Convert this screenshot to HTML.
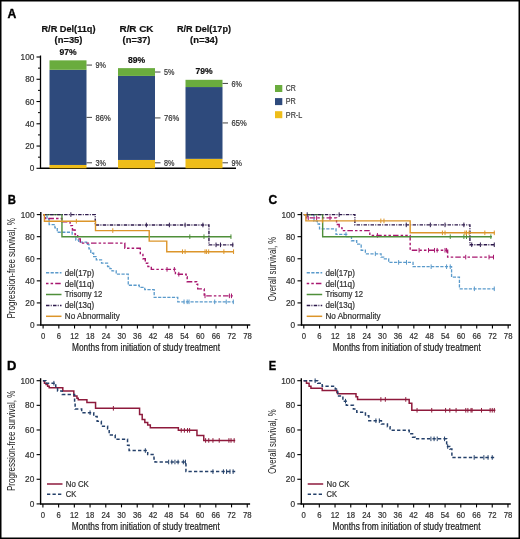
<!DOCTYPE html>
<html><head><meta charset="utf-8"><style>
html,body{margin:0;padding:0;background:#fff;}
body{width:520px;height:539px;overflow:hidden;}
svg{display:block;font-family:"Liberation Sans", sans-serif;will-change:transform;}
</style></head><body>
<svg width="520" height="539" viewBox="0 0 520 539">
<rect x="0" y="0" width="520" height="539" fill="#fff"/>
<text x="7.5" y="17.6" font-size="12.3" text-anchor="start" font-weight="bold" fill="#000" textLength="8.8" lengthAdjust="spacingAndGlyphs" stroke="#000" stroke-width="0.35">A</text>
<line x1="40.5" y1="55.5" x2="40.5" y2="168.8" stroke="#000" stroke-width="1.3" />
<line x1="39.9" y1="168.3" x2="236" y2="168.3" stroke="#000" stroke-width="1.5" />
<line x1="36.5" y1="168.3" x2="40.5" y2="168.3" stroke="#000" stroke-width="1.1" />
<text x="34.4" y="171.4" font-size="8.8" text-anchor="end" font-weight="normal" fill="#333" stroke="#333" stroke-width="0.22" textLength="4.6" lengthAdjust="spacingAndGlyphs" >0</text>
<line x1="38.0" y1="157.17000000000002" x2="40.5" y2="157.17000000000002" stroke="#000" stroke-width="1" />
<line x1="36.5" y1="146.04000000000002" x2="40.5" y2="146.04000000000002" stroke="#000" stroke-width="1.1" />
<text x="34.4" y="149.14000000000001" font-size="8.8" text-anchor="end" font-weight="normal" fill="#333" stroke="#333" stroke-width="0.22" textLength="9.2" lengthAdjust="spacingAndGlyphs" >20</text>
<line x1="38.0" y1="134.91000000000003" x2="40.5" y2="134.91000000000003" stroke="#000" stroke-width="1" />
<line x1="36.5" y1="123.78000000000002" x2="40.5" y2="123.78000000000002" stroke="#000" stroke-width="1.1" />
<text x="34.4" y="126.88000000000001" font-size="8.8" text-anchor="end" font-weight="normal" fill="#333" stroke="#333" stroke-width="0.22" textLength="9.2" lengthAdjust="spacingAndGlyphs" >40</text>
<line x1="38.0" y1="112.65" x2="40.5" y2="112.65" stroke="#000" stroke-width="1" />
<line x1="36.5" y1="101.52000000000001" x2="40.5" y2="101.52000000000001" stroke="#000" stroke-width="1.1" />
<text x="34.4" y="104.62" font-size="8.8" text-anchor="end" font-weight="normal" fill="#333" stroke="#333" stroke-width="0.22" textLength="9.2" lengthAdjust="spacingAndGlyphs" >60</text>
<line x1="38.0" y1="90.39000000000001" x2="40.5" y2="90.39000000000001" stroke="#000" stroke-width="1" />
<line x1="36.5" y1="79.26000000000002" x2="40.5" y2="79.26000000000002" stroke="#000" stroke-width="1.1" />
<text x="34.4" y="82.36000000000001" font-size="8.8" text-anchor="end" font-weight="normal" fill="#333" stroke="#333" stroke-width="0.22" textLength="9.2" lengthAdjust="spacingAndGlyphs" >80</text>
<line x1="38.0" y1="68.13000000000001" x2="40.5" y2="68.13000000000001" stroke="#000" stroke-width="1" />
<line x1="36.5" y1="57.000000000000014" x2="40.5" y2="57.000000000000014" stroke="#000" stroke-width="1.1" />
<text x="34.4" y="60.100000000000016" font-size="8.8" text-anchor="end" font-weight="normal" fill="#333" stroke="#333" stroke-width="0.22" textLength="13.799999999999999" lengthAdjust="spacingAndGlyphs" >100</text>
<rect x="49.5" y="164.96" width="37" height="3.34" fill="#eebd1a"/>
<rect x="49.5" y="69.80" width="37" height="95.16" fill="#2e4a7c"/>
<rect x="49.5" y="60.34" width="37" height="9.46" fill="#6aac3e"/>
<text x="68.0" y="54.83900000000001" font-size="8.6" text-anchor="middle" font-weight="bold" fill="#111" stroke="#111" stroke-width="0.18" >97%</text>
<line x1="86.5" y1="162.8" x2="92.0" y2="162.8" stroke="#444" stroke-width="1" />
<text x="95.5" y="166.0" font-size="9.2" text-anchor="start" font-weight="normal" fill="#333" stroke="#333" stroke-width="0.22" textLength="10.4" lengthAdjust="spacingAndGlyphs" >3%</text>
<line x1="86.5" y1="117.38025000000002" x2="92.0" y2="117.38025000000002" stroke="#444" stroke-width="1" />
<text x="95.5" y="120.58025000000002" font-size="9.2" text-anchor="start" font-weight="normal" fill="#333" stroke="#333" stroke-width="0.22" textLength="15.2" lengthAdjust="spacingAndGlyphs" >86%</text>
<line x1="86.5" y1="65.06925000000001" x2="92.0" y2="65.06925000000001" stroke="#444" stroke-width="1" />
<text x="95.5" y="68.26925000000001" font-size="9.2" text-anchor="start" font-weight="normal" fill="#333" stroke="#333" stroke-width="0.22" textLength="10.4" lengthAdjust="spacingAndGlyphs" >9%</text>
<rect x="118.0" y="159.95" width="37" height="8.35" fill="#eebd1a"/>
<rect x="118.0" y="75.92" width="37" height="84.03" fill="#2e4a7c"/>
<rect x="118.0" y="68.13" width="37" height="7.79" fill="#6aac3e"/>
<text x="136.5" y="62.63000000000001" font-size="8.6" text-anchor="middle" font-weight="bold" fill="#111" stroke="#111" stroke-width="0.18" >89%</text>
<line x1="155.0" y1="162.8" x2="160.5" y2="162.8" stroke="#444" stroke-width="1" />
<text x="164.0" y="166.0" font-size="9.2" text-anchor="start" font-weight="normal" fill="#333" stroke="#333" stroke-width="0.22" textLength="10.4" lengthAdjust="spacingAndGlyphs" >8%</text>
<line x1="155.0" y1="117.93675000000002" x2="160.5" y2="117.93675000000002" stroke="#444" stroke-width="1" />
<text x="164.0" y="121.13675000000002" font-size="9.2" text-anchor="start" font-weight="normal" fill="#333" stroke="#333" stroke-width="0.22" textLength="15.2" lengthAdjust="spacingAndGlyphs" >76%</text>
<line x1="155.0" y1="72.02550000000001" x2="160.5" y2="72.02550000000001" stroke="#444" stroke-width="1" />
<text x="164.0" y="75.22550000000001" font-size="9.2" text-anchor="start" font-weight="normal" fill="#333" stroke="#333" stroke-width="0.22" textLength="10.4" lengthAdjust="spacingAndGlyphs" >5%</text>
<rect x="185.5" y="158.84" width="37" height="9.46" fill="#eebd1a"/>
<rect x="185.5" y="87.05" width="37" height="71.79" fill="#2e4a7c"/>
<rect x="185.5" y="79.82" width="37" height="7.23" fill="#6aac3e"/>
<text x="204.0" y="74.31650000000002" font-size="8.6" text-anchor="middle" font-weight="bold" fill="#111" stroke="#111" stroke-width="0.18" >79%</text>
<line x1="222.5" y1="162.8" x2="228.0" y2="162.8" stroke="#444" stroke-width="1" />
<text x="231.5" y="166.0" font-size="9.2" text-anchor="start" font-weight="normal" fill="#333" stroke="#333" stroke-width="0.22" textLength="10.4" lengthAdjust="spacingAndGlyphs" >9%</text>
<line x1="222.5" y1="122.94525000000002" x2="228.0" y2="122.94525000000002" stroke="#444" stroke-width="1" />
<text x="231.5" y="126.14525000000002" font-size="9.2" text-anchor="start" font-weight="normal" fill="#333" stroke="#333" stroke-width="0.22" textLength="15.2" lengthAdjust="spacingAndGlyphs" >65%</text>
<line x1="222.5" y1="83.43375000000002" x2="228.0" y2="83.43375000000002" stroke="#444" stroke-width="1" />
<text x="231.5" y="86.63375000000002" font-size="9.2" text-anchor="start" font-weight="normal" fill="#333" stroke="#333" stroke-width="0.22" textLength="10.4" lengthAdjust="spacingAndGlyphs" >6%</text>
<text x="68.5" y="31.8" font-size="9.2" text-anchor="middle" font-weight="bold" fill="#111" stroke="#111" stroke-width="0.18" textLength="54" lengthAdjust="spacingAndGlyphs" >R/R Del(11q)</text>
<text x="68.5" y="42.6" font-size="9.2" text-anchor="middle" font-weight="bold" fill="#111" stroke="#111" stroke-width="0.18" textLength="28" lengthAdjust="spacingAndGlyphs" >(n=35)</text>
<text x="136.5" y="31.8" font-size="9.2" text-anchor="middle" font-weight="bold" fill="#111" stroke="#111" stroke-width="0.18" textLength="34" lengthAdjust="spacingAndGlyphs" >R/R CK</text>
<text x="136.5" y="42.6" font-size="9.2" text-anchor="middle" font-weight="bold" fill="#111" stroke="#111" stroke-width="0.18" textLength="28" lengthAdjust="spacingAndGlyphs" >(n=37)</text>
<text x="204" y="31.8" font-size="9.2" text-anchor="middle" font-weight="bold" fill="#111" stroke="#111" stroke-width="0.18" textLength="54" lengthAdjust="spacingAndGlyphs" >R/R Del(17p)</text>
<text x="204" y="42.6" font-size="9.2" text-anchor="middle" font-weight="bold" fill="#111" stroke="#111" stroke-width="0.18" textLength="28" lengthAdjust="spacingAndGlyphs" >(n=34)</text>
<rect x="275" y="85.0" width="7.3" height="7" fill="#6aac3e"/>
<text x="285.8" y="91.3" font-size="8.2" text-anchor="start" font-weight="normal" fill="#444" stroke="#444" stroke-width="0.22" textLength="10" lengthAdjust="spacingAndGlyphs" >CR</text>
<rect x="275" y="98.1" width="7.3" height="7" fill="#2e4a7c"/>
<text x="285.8" y="104.39999999999999" font-size="8.2" text-anchor="start" font-weight="normal" fill="#444" stroke="#444" stroke-width="0.22" textLength="10" lengthAdjust="spacingAndGlyphs" >PR</text>
<rect x="275" y="111.2" width="7.3" height="7" fill="#eebd1a"/>
<text x="285.8" y="117.5" font-size="8.2" text-anchor="start" font-weight="normal" fill="#444" stroke="#444" stroke-width="0.22" textLength="16.5" lengthAdjust="spacingAndGlyphs" >PR-L</text>
<line x1="40.8" y1="212.1" x2="40.8" y2="325.5" stroke="#000" stroke-width="1.4" />
<line x1="40.199999999999996" y1="325.0" x2="250.3" y2="325.0" stroke="#000" stroke-width="1.5" />
<line x1="36.8" y1="325.0" x2="40.8" y2="325.0" stroke="#000" stroke-width="1.1" />
<text x="34.5" y="328.1" font-size="8.8" text-anchor="end" font-weight="normal" fill="#333" stroke="#333" stroke-width="0.22" textLength="4.6" lengthAdjust="spacingAndGlyphs" >0</text>
<line x1="36.8" y1="302.92" x2="40.8" y2="302.92" stroke="#000" stroke-width="1.1" />
<text x="34.5" y="306.02000000000004" font-size="8.8" text-anchor="end" font-weight="normal" fill="#333" stroke="#333" stroke-width="0.22" textLength="9.2" lengthAdjust="spacingAndGlyphs" >20</text>
<line x1="36.8" y1="280.84" x2="40.8" y2="280.84" stroke="#000" stroke-width="1.1" />
<text x="34.5" y="283.94" font-size="8.8" text-anchor="end" font-weight="normal" fill="#333" stroke="#333" stroke-width="0.22" textLength="9.2" lengthAdjust="spacingAndGlyphs" >40</text>
<line x1="36.8" y1="258.76" x2="40.8" y2="258.76" stroke="#000" stroke-width="1.1" />
<text x="34.5" y="261.86" font-size="8.8" text-anchor="end" font-weight="normal" fill="#333" stroke="#333" stroke-width="0.22" textLength="9.2" lengthAdjust="spacingAndGlyphs" >60</text>
<line x1="36.8" y1="236.68" x2="40.8" y2="236.68" stroke="#000" stroke-width="1.1" />
<text x="34.5" y="239.78" font-size="8.8" text-anchor="end" font-weight="normal" fill="#333" stroke="#333" stroke-width="0.22" textLength="9.2" lengthAdjust="spacingAndGlyphs" >80</text>
<line x1="36.8" y1="214.6" x2="40.8" y2="214.6" stroke="#000" stroke-width="1.1" />
<text x="34.5" y="217.7" font-size="8.8" text-anchor="end" font-weight="normal" fill="#333" stroke="#333" stroke-width="0.22" textLength="13.799999999999999" lengthAdjust="spacingAndGlyphs" >100</text>
<line x1="43.099999999999994" y1="325.0" x2="43.099999999999994" y2="328.5" stroke="#000" stroke-width="1.1" />
<text x="43.099999999999994" y="338.8" font-size="8.8" text-anchor="middle" font-weight="normal" fill="#333" stroke="#333" stroke-width="0.22" textLength="4.3" lengthAdjust="spacingAndGlyphs" >0</text>
<line x1="58.81999999999999" y1="325.0" x2="58.81999999999999" y2="328.5" stroke="#000" stroke-width="1.1" />
<text x="58.81999999999999" y="338.8" font-size="8.8" text-anchor="middle" font-weight="normal" fill="#333" stroke="#333" stroke-width="0.22" textLength="4.3" lengthAdjust="spacingAndGlyphs" >6</text>
<line x1="74.53999999999999" y1="325.0" x2="74.53999999999999" y2="328.5" stroke="#000" stroke-width="1.1" />
<text x="74.53999999999999" y="338.8" font-size="8.8" text-anchor="middle" font-weight="normal" fill="#333" stroke="#333" stroke-width="0.22" textLength="8.6" lengthAdjust="spacingAndGlyphs" >12</text>
<line x1="90.25999999999999" y1="325.0" x2="90.25999999999999" y2="328.5" stroke="#000" stroke-width="1.1" />
<text x="90.25999999999999" y="338.8" font-size="8.8" text-anchor="middle" font-weight="normal" fill="#333" stroke="#333" stroke-width="0.22" textLength="8.6" lengthAdjust="spacingAndGlyphs" >18</text>
<line x1="105.97999999999999" y1="325.0" x2="105.97999999999999" y2="328.5" stroke="#000" stroke-width="1.1" />
<text x="105.97999999999999" y="338.8" font-size="8.8" text-anchor="middle" font-weight="normal" fill="#333" stroke="#333" stroke-width="0.22" textLength="8.6" lengthAdjust="spacingAndGlyphs" >24</text>
<line x1="121.7" y1="325.0" x2="121.7" y2="328.5" stroke="#000" stroke-width="1.1" />
<text x="121.7" y="338.8" font-size="8.8" text-anchor="middle" font-weight="normal" fill="#333" stroke="#333" stroke-width="0.22" textLength="8.6" lengthAdjust="spacingAndGlyphs" >30</text>
<line x1="137.42000000000002" y1="325.0" x2="137.42000000000002" y2="328.5" stroke="#000" stroke-width="1.1" />
<text x="137.42000000000002" y="338.8" font-size="8.8" text-anchor="middle" font-weight="normal" fill="#333" stroke="#333" stroke-width="0.22" textLength="8.6" lengthAdjust="spacingAndGlyphs" >36</text>
<line x1="153.14" y1="325.0" x2="153.14" y2="328.5" stroke="#000" stroke-width="1.1" />
<text x="153.14" y="338.8" font-size="8.8" text-anchor="middle" font-weight="normal" fill="#333" stroke="#333" stroke-width="0.22" textLength="8.6" lengthAdjust="spacingAndGlyphs" >42</text>
<line x1="168.86" y1="325.0" x2="168.86" y2="328.5" stroke="#000" stroke-width="1.1" />
<text x="168.86" y="338.8" font-size="8.8" text-anchor="middle" font-weight="normal" fill="#333" stroke="#333" stroke-width="0.22" textLength="8.6" lengthAdjust="spacingAndGlyphs" >48</text>
<line x1="184.58" y1="325.0" x2="184.58" y2="328.5" stroke="#000" stroke-width="1.1" />
<text x="184.58" y="338.8" font-size="8.8" text-anchor="middle" font-weight="normal" fill="#333" stroke="#333" stroke-width="0.22" textLength="8.6" lengthAdjust="spacingAndGlyphs" >54</text>
<line x1="200.3" y1="325.0" x2="200.3" y2="328.5" stroke="#000" stroke-width="1.1" />
<text x="200.3" y="338.8" font-size="8.8" text-anchor="middle" font-weight="normal" fill="#333" stroke="#333" stroke-width="0.22" textLength="8.6" lengthAdjust="spacingAndGlyphs" >60</text>
<line x1="216.02" y1="325.0" x2="216.02" y2="328.5" stroke="#000" stroke-width="1.1" />
<text x="216.02" y="338.8" font-size="8.8" text-anchor="middle" font-weight="normal" fill="#333" stroke="#333" stroke-width="0.22" textLength="8.6" lengthAdjust="spacingAndGlyphs" >66</text>
<line x1="231.74" y1="325.0" x2="231.74" y2="328.5" stroke="#000" stroke-width="1.1" />
<text x="231.74" y="338.8" font-size="8.8" text-anchor="middle" font-weight="normal" fill="#333" stroke="#333" stroke-width="0.22" textLength="8.6" lengthAdjust="spacingAndGlyphs" >72</text>
<line x1="247.46" y1="325.0" x2="247.46" y2="328.5" stroke="#000" stroke-width="1.1" />
<text x="247.46" y="338.8" font-size="8.8" text-anchor="middle" font-weight="normal" fill="#333" stroke="#333" stroke-width="0.22" textLength="8.6" lengthAdjust="spacingAndGlyphs" >78</text>
<text x="146.0" y="350.8" font-size="10" text-anchor="middle" font-weight="normal" fill="#222" stroke="#222" stroke-width="0.22" textLength="148" lengthAdjust="spacingAndGlyphs" >Months from initiation of study treatment</text>
<text x="0" y="0" font-size="10" text-anchor="middle" fill="#222" textLength="100.5" lengthAdjust="spacingAndGlyphs" transform="translate(14.999999999999996,268.3) rotate(-90)">Progression-free survival, %</text>
<text x="7.699999999999996" y="203.5" font-size="12.3" text-anchor="start" font-weight="bold" fill="#000" textLength="8.2" lengthAdjust="spacingAndGlyphs" stroke="#000" stroke-width="0.35">B</text>
<path d="M43.10,214.60 H47.03 V219.02 H49.13 V224.54 H54.89 V227.85 H57.25 V232.26 H72.18 V236.68 H75.85 V239.99 H78.73 V242.20 H86.59 V244.41 H88.95 V248.82 H90.78 V253.24 H93.67 V256.55 H96.29 V259.86 H101.53 V263.18 H107.55 V266.49 H109.91 V268.70 H112.01 V270.90 H116.20 V274.22 H128.25 V285.26 H139.25 V287.46 H144.76 V289.67 H154.19 V297.40 H177.77 V301.82 H233.84" fill="none" stroke="#5a9acb" stroke-width="1.3" stroke-dasharray="3.2,1.4"/>
<line x1="184.06" y1="299.52" x2="184.06" y2="304.12" stroke="#5a9acb" stroke-width="1" />
<line x1="187.20" y1="299.52" x2="187.20" y2="304.12" stroke="#5a9acb" stroke-width="1" />
<line x1="189.03" y1="299.52" x2="189.03" y2="304.12" stroke="#5a9acb" stroke-width="1" />
<line x1="214.71" y1="299.52" x2="214.71" y2="304.12" stroke="#5a9acb" stroke-width="1" />
<line x1="226.24" y1="299.52" x2="226.24" y2="304.12" stroke="#5a9acb" stroke-width="1" />
<line x1="233.31" y1="299.52" x2="233.31" y2="304.12" stroke="#5a9acb" stroke-width="1" />
<path d="M43.10,214.60 H45.20 V218.46 H61.96 V221.89 H70.09 V225.64 H72.44 V230.06 H75.06 V234.47 H77.68 V238.89 H80.30 V243.08 H124.84 V248.27 H140.30 V254.34 H142.92 V258.76 H145.28 V263.18 H147.90 V266.49 H151.31 V269.36 H175.41 V274.22 H186.15 V276.76 H187.20 V281.72 H196.63 V284.15 H197.68 V288.90 H204.23 V295.85 H232.79" fill="none" stroke="#a8176f" stroke-width="1.4" stroke-dasharray="2.5,2.1,2.5,2.1,5.5,2.1"/>
<line x1="167.03" y1="267.06" x2="167.03" y2="271.66" stroke="#a8176f" stroke-width="1" />
<line x1="174.36" y1="267.06" x2="174.36" y2="271.66" stroke="#a8176f" stroke-width="1" />
<line x1="178.82" y1="271.92" x2="178.82" y2="276.52" stroke="#a8176f" stroke-width="1" />
<line x1="205.02" y1="293.55" x2="205.02" y2="298.15" stroke="#a8176f" stroke-width="1" />
<line x1="229.38" y1="293.55" x2="229.38" y2="298.15" stroke="#a8176f" stroke-width="1" />
<line x1="231.48" y1="293.55" x2="231.48" y2="298.15" stroke="#a8176f" stroke-width="1" />
<path d="M43.10,214.60 H61.96 V236.68 H231.22" fill="none" stroke="#4f8f3a" stroke-width="1.4"/>
<line x1="189.82" y1="234.38" x2="189.82" y2="238.98" stroke="#4f8f3a" stroke-width="1" />
<line x1="203.97" y1="234.38" x2="203.97" y2="238.98" stroke="#4f8f3a" stroke-width="1" />
<line x1="230.95" y1="234.38" x2="230.95" y2="238.98" stroke="#4f8f3a" stroke-width="1" />
<path d="M43.10,214.60 H95.24 V224.98 H208.95 V244.85 H233.57" fill="none" stroke="#2e1a4c" stroke-width="1.4" stroke-dasharray="3.5,1.2,1,1.3"/>
<line x1="70.87" y1="212.30" x2="70.87" y2="216.90" stroke="#2e1a4c" stroke-width="1" />
<line x1="146.33" y1="222.68" x2="146.33" y2="227.28" stroke="#2e1a4c" stroke-width="1" />
<line x1="169.38" y1="222.68" x2="169.38" y2="227.28" stroke="#2e1a4c" stroke-width="1" />
<line x1="185.10" y1="222.68" x2="185.10" y2="227.28" stroke="#2e1a4c" stroke-width="1" />
<line x1="202.92" y1="222.68" x2="202.92" y2="227.28" stroke="#2e1a4c" stroke-width="1" />
<line x1="216.02" y1="242.55" x2="216.02" y2="247.15" stroke="#2e1a4c" stroke-width="1" />
<line x1="220.47" y1="242.55" x2="220.47" y2="247.15" stroke="#2e1a4c" stroke-width="1" />
<line x1="232.79" y1="242.55" x2="232.79" y2="247.15" stroke="#2e1a4c" stroke-width="1" />
<path d="M43.10,214.60 H44.41 V221.22 H95.50 V230.61 H149.21 V241.10 H166.76 V251.69 H233.57" fill="none" stroke="#dc952a" stroke-width="1.4"/>
<line x1="76.37" y1="218.92" x2="76.37" y2="223.52" stroke="#dc952a" stroke-width="1" />
<line x1="112.79" y1="228.31" x2="112.79" y2="232.91" stroke="#dc952a" stroke-width="1" />
<line x1="182.48" y1="249.39" x2="182.48" y2="253.99" stroke="#dc952a" stroke-width="1" />
<line x1="185.10" y1="249.39" x2="185.10" y2="253.99" stroke="#dc952a" stroke-width="1" />
<line x1="205.02" y1="249.39" x2="205.02" y2="253.99" stroke="#dc952a" stroke-width="1" />
<line x1="206.59" y1="249.39" x2="206.59" y2="253.99" stroke="#dc952a" stroke-width="1" />
<line x1="208.68" y1="249.39" x2="208.68" y2="253.99" stroke="#dc952a" stroke-width="1" />
<line x1="223.88" y1="249.39" x2="223.88" y2="253.99" stroke="#dc952a" stroke-width="1" />
<line x1="233.57" y1="249.39" x2="233.57" y2="253.99" stroke="#dc952a" stroke-width="1" />
<line x1="46" y1="272.7" x2="61.5" y2="272.7" stroke="#5a9acb" stroke-width="1.5" stroke-dasharray="3.2,1.4"/>
<text x="64.8" y="275.59999999999997" font-size="8.2" text-anchor="start" font-weight="normal" fill="#333" stroke="#333" stroke-width="0.22" textLength="29.4" lengthAdjust="spacingAndGlyphs" >del(17p)</text>
<line x1="46" y1="283.59999999999997" x2="61.5" y2="283.59999999999997" stroke="#a8176f" stroke-width="1.5" stroke-dasharray="2.5,2.1,2.5,2.1,5.5,2.1"/>
<text x="64.8" y="286.49999999999994" font-size="8.2" text-anchor="start" font-weight="normal" fill="#333" stroke="#333" stroke-width="0.22" textLength="29.4" lengthAdjust="spacingAndGlyphs" >del(11q)</text>
<line x1="46" y1="294.5" x2="61.5" y2="294.5" stroke="#4f8f3a" stroke-width="1.5"/>
<text x="64.8" y="297.4" font-size="8.2" text-anchor="start" font-weight="normal" fill="#333" stroke="#333" stroke-width="0.22" textLength="37.5" lengthAdjust="spacingAndGlyphs" >Trisomy 12</text>
<line x1="46" y1="305.4" x2="61.5" y2="305.4" stroke="#2e1a4c" stroke-width="1.5" stroke-dasharray="3.5,1.2,1,1.3"/>
<text x="64.8" y="308.29999999999995" font-size="8.2" text-anchor="start" font-weight="normal" fill="#333" stroke="#333" stroke-width="0.22" textLength="29.4" lengthAdjust="spacingAndGlyphs" >del(13q)</text>
<line x1="46" y1="316.3" x2="61.5" y2="316.3" stroke="#dc952a" stroke-width="1.5"/>
<text x="64.8" y="319.2" font-size="8.2" text-anchor="start" font-weight="normal" fill="#333" stroke="#333" stroke-width="0.22" textLength="55" lengthAdjust="spacingAndGlyphs" >No Abnormality</text>
<line x1="301.5" y1="212.1" x2="301.5" y2="325.5" stroke="#000" stroke-width="1.4" />
<line x1="300.9" y1="325.0" x2="511.0" y2="325.0" stroke="#000" stroke-width="1.5" />
<line x1="297.5" y1="325.0" x2="301.5" y2="325.0" stroke="#000" stroke-width="1.1" />
<text x="295.2" y="328.1" font-size="8.8" text-anchor="end" font-weight="normal" fill="#333" stroke="#333" stroke-width="0.22" textLength="4.6" lengthAdjust="spacingAndGlyphs" >0</text>
<line x1="297.5" y1="302.92" x2="301.5" y2="302.92" stroke="#000" stroke-width="1.1" />
<text x="295.2" y="306.02000000000004" font-size="8.8" text-anchor="end" font-weight="normal" fill="#333" stroke="#333" stroke-width="0.22" textLength="9.2" lengthAdjust="spacingAndGlyphs" >20</text>
<line x1="297.5" y1="280.84" x2="301.5" y2="280.84" stroke="#000" stroke-width="1.1" />
<text x="295.2" y="283.94" font-size="8.8" text-anchor="end" font-weight="normal" fill="#333" stroke="#333" stroke-width="0.22" textLength="9.2" lengthAdjust="spacingAndGlyphs" >40</text>
<line x1="297.5" y1="258.76" x2="301.5" y2="258.76" stroke="#000" stroke-width="1.1" />
<text x="295.2" y="261.86" font-size="8.8" text-anchor="end" font-weight="normal" fill="#333" stroke="#333" stroke-width="0.22" textLength="9.2" lengthAdjust="spacingAndGlyphs" >60</text>
<line x1="297.5" y1="236.68" x2="301.5" y2="236.68" stroke="#000" stroke-width="1.1" />
<text x="295.2" y="239.78" font-size="8.8" text-anchor="end" font-weight="normal" fill="#333" stroke="#333" stroke-width="0.22" textLength="9.2" lengthAdjust="spacingAndGlyphs" >80</text>
<line x1="297.5" y1="214.6" x2="301.5" y2="214.6" stroke="#000" stroke-width="1.1" />
<text x="295.2" y="217.7" font-size="8.8" text-anchor="end" font-weight="normal" fill="#333" stroke="#333" stroke-width="0.22" textLength="13.799999999999999" lengthAdjust="spacingAndGlyphs" >100</text>
<line x1="303.8" y1="325.0" x2="303.8" y2="328.5" stroke="#000" stroke-width="1.1" />
<text x="303.8" y="338.8" font-size="8.8" text-anchor="middle" font-weight="normal" fill="#333" stroke="#333" stroke-width="0.22" textLength="4.3" lengthAdjust="spacingAndGlyphs" >0</text>
<line x1="319.52000000000004" y1="325.0" x2="319.52000000000004" y2="328.5" stroke="#000" stroke-width="1.1" />
<text x="319.52000000000004" y="338.8" font-size="8.8" text-anchor="middle" font-weight="normal" fill="#333" stroke="#333" stroke-width="0.22" textLength="4.3" lengthAdjust="spacingAndGlyphs" >6</text>
<line x1="335.24" y1="325.0" x2="335.24" y2="328.5" stroke="#000" stroke-width="1.1" />
<text x="335.24" y="338.8" font-size="8.8" text-anchor="middle" font-weight="normal" fill="#333" stroke="#333" stroke-width="0.22" textLength="8.6" lengthAdjust="spacingAndGlyphs" >12</text>
<line x1="350.96000000000004" y1="325.0" x2="350.96000000000004" y2="328.5" stroke="#000" stroke-width="1.1" />
<text x="350.96000000000004" y="338.8" font-size="8.8" text-anchor="middle" font-weight="normal" fill="#333" stroke="#333" stroke-width="0.22" textLength="8.6" lengthAdjust="spacingAndGlyphs" >18</text>
<line x1="366.68" y1="325.0" x2="366.68" y2="328.5" stroke="#000" stroke-width="1.1" />
<text x="366.68" y="338.8" font-size="8.8" text-anchor="middle" font-weight="normal" fill="#333" stroke="#333" stroke-width="0.22" textLength="8.6" lengthAdjust="spacingAndGlyphs" >24</text>
<line x1="382.40000000000003" y1="325.0" x2="382.40000000000003" y2="328.5" stroke="#000" stroke-width="1.1" />
<text x="382.40000000000003" y="338.8" font-size="8.8" text-anchor="middle" font-weight="normal" fill="#333" stroke="#333" stroke-width="0.22" textLength="8.6" lengthAdjust="spacingAndGlyphs" >30</text>
<line x1="398.12" y1="325.0" x2="398.12" y2="328.5" stroke="#000" stroke-width="1.1" />
<text x="398.12" y="338.8" font-size="8.8" text-anchor="middle" font-weight="normal" fill="#333" stroke="#333" stroke-width="0.22" textLength="8.6" lengthAdjust="spacingAndGlyphs" >36</text>
<line x1="413.84000000000003" y1="325.0" x2="413.84000000000003" y2="328.5" stroke="#000" stroke-width="1.1" />
<text x="413.84000000000003" y="338.8" font-size="8.8" text-anchor="middle" font-weight="normal" fill="#333" stroke="#333" stroke-width="0.22" textLength="8.6" lengthAdjust="spacingAndGlyphs" >42</text>
<line x1="429.56" y1="325.0" x2="429.56" y2="328.5" stroke="#000" stroke-width="1.1" />
<text x="429.56" y="338.8" font-size="8.8" text-anchor="middle" font-weight="normal" fill="#333" stroke="#333" stroke-width="0.22" textLength="8.6" lengthAdjust="spacingAndGlyphs" >48</text>
<line x1="445.28000000000003" y1="325.0" x2="445.28000000000003" y2="328.5" stroke="#000" stroke-width="1.1" />
<text x="445.28000000000003" y="338.8" font-size="8.8" text-anchor="middle" font-weight="normal" fill="#333" stroke="#333" stroke-width="0.22" textLength="8.6" lengthAdjust="spacingAndGlyphs" >54</text>
<line x1="461.0" y1="325.0" x2="461.0" y2="328.5" stroke="#000" stroke-width="1.1" />
<text x="461.0" y="338.8" font-size="8.8" text-anchor="middle" font-weight="normal" fill="#333" stroke="#333" stroke-width="0.22" textLength="8.6" lengthAdjust="spacingAndGlyphs" >60</text>
<line x1="476.72" y1="325.0" x2="476.72" y2="328.5" stroke="#000" stroke-width="1.1" />
<text x="476.72" y="338.8" font-size="8.8" text-anchor="middle" font-weight="normal" fill="#333" stroke="#333" stroke-width="0.22" textLength="8.6" lengthAdjust="spacingAndGlyphs" >66</text>
<line x1="492.44000000000005" y1="325.0" x2="492.44000000000005" y2="328.5" stroke="#000" stroke-width="1.1" />
<text x="492.44000000000005" y="338.8" font-size="8.8" text-anchor="middle" font-weight="normal" fill="#333" stroke="#333" stroke-width="0.22" textLength="8.6" lengthAdjust="spacingAndGlyphs" >72</text>
<line x1="508.16" y1="325.0" x2="508.16" y2="328.5" stroke="#000" stroke-width="1.1" />
<text x="508.16" y="338.8" font-size="8.8" text-anchor="middle" font-weight="normal" fill="#333" stroke="#333" stroke-width="0.22" textLength="8.6" lengthAdjust="spacingAndGlyphs" >78</text>
<text x="406.7" y="350.8" font-size="10" text-anchor="middle" font-weight="normal" fill="#222" stroke="#222" stroke-width="0.22" textLength="148" lengthAdjust="spacingAndGlyphs" >Months from initiation of study treatment</text>
<text x="0" y="0" font-size="10" text-anchor="middle" fill="#222" textLength="64.5" lengthAdjust="spacingAndGlyphs" transform="translate(275.7,269.0) rotate(-90)">Overall survival, %</text>
<text x="268.59999999999997" y="203.5" font-size="12.3" text-anchor="start" font-weight="bold" fill="#000" textLength="8.7" lengthAdjust="spacingAndGlyphs" stroke="#000" stroke-width="0.35">C</text>
<path d="M303.80,214.60 H314.02 V221.22 H317.42 V223.98 H319.52 V228.95 H336.03 V234.47 H346.77 V236.68 H351.48 V240.76 H356.72 V244.19 H361.18 V250.26 H365.37 V253.79 H381.09 V257.21 H383.71 V258.87 H388.69 V262.40 H413.05 V266.71 H451.57 V277.20 H459.43 V288.79 H494.54" fill="none" stroke="#5a9acb" stroke-width="1.3" stroke-dasharray="3.2,1.4"/>
<line x1="345.98" y1="232.17" x2="345.98" y2="236.77" stroke="#5a9acb" stroke-width="1" />
<line x1="375.33" y1="251.49" x2="375.33" y2="256.09" stroke="#5a9acb" stroke-width="1" />
<line x1="398.64" y1="260.10" x2="398.64" y2="264.70" stroke="#5a9acb" stroke-width="1" />
<line x1="406.50" y1="260.10" x2="406.50" y2="264.70" stroke="#5a9acb" stroke-width="1" />
<line x1="431.13" y1="264.41" x2="431.13" y2="269.01" stroke="#5a9acb" stroke-width="1" />
<line x1="446.59" y1="264.41" x2="446.59" y2="269.01" stroke="#5a9acb" stroke-width="1" />
<line x1="450.26" y1="264.41" x2="450.26" y2="269.01" stroke="#5a9acb" stroke-width="1" />
<line x1="474.36" y1="286.49" x2="474.36" y2="291.09" stroke="#5a9acb" stroke-width="1" />
<line x1="494.27" y1="286.49" x2="494.27" y2="291.09" stroke="#5a9acb" stroke-width="1" />
<path d="M303.80,214.60 H306.42 V217.91 H336.55 V224.54 H339.17 V227.85 H342.05 V230.61 H369.82 V235.36 H410.17 V250.26 H447.64 V257.10 H494.01" fill="none" stroke="#a8176f" stroke-width="1.4" stroke-dasharray="2.5,2.1,2.5,2.1,5.5,2.1"/>
<line x1="308.25" y1="215.61" x2="308.25" y2="220.21" stroke="#a8176f" stroke-width="1" />
<line x1="316.64" y1="215.61" x2="316.64" y2="220.21" stroke="#a8176f" stroke-width="1" />
<line x1="330.00" y1="215.61" x2="330.00" y2="220.21" stroke="#a8176f" stroke-width="1" />
<line x1="377.42" y1="233.06" x2="377.42" y2="237.66" stroke="#a8176f" stroke-width="1" />
<line x1="419.08" y1="247.96" x2="419.08" y2="252.56" stroke="#a8176f" stroke-width="1" />
<line x1="428.51" y1="247.96" x2="428.51" y2="252.56" stroke="#a8176f" stroke-width="1" />
<line x1="434.54" y1="247.96" x2="434.54" y2="252.56" stroke="#a8176f" stroke-width="1" />
<line x1="437.16" y1="247.96" x2="437.16" y2="252.56" stroke="#a8176f" stroke-width="1" />
<line x1="445.02" y1="247.96" x2="445.02" y2="252.56" stroke="#a8176f" stroke-width="1" />
<line x1="446.59" y1="247.96" x2="446.59" y2="252.56" stroke="#a8176f" stroke-width="1" />
<line x1="465.72" y1="254.80" x2="465.72" y2="259.40" stroke="#a8176f" stroke-width="1" />
<line x1="489.03" y1="254.80" x2="489.03" y2="259.40" stroke="#a8176f" stroke-width="1" />
<line x1="493.49" y1="254.80" x2="493.49" y2="259.40" stroke="#a8176f" stroke-width="1" />
<path d="M303.80,214.60 H322.66 V236.68 H491.92" fill="none" stroke="#4f8f3a" stroke-width="1.4"/>
<line x1="450.26" y1="234.38" x2="450.26" y2="238.98" stroke="#4f8f3a" stroke-width="1" />
<line x1="463.88" y1="234.38" x2="463.88" y2="238.98" stroke="#4f8f3a" stroke-width="1" />
<line x1="466.50" y1="234.38" x2="466.50" y2="238.98" stroke="#4f8f3a" stroke-width="1" />
<line x1="490.87" y1="234.38" x2="490.87" y2="238.98" stroke="#4f8f3a" stroke-width="1" />
<path d="M303.80,214.60 H354.89 V224.87 H469.91 V244.74 H494.80" fill="none" stroke="#2e1a4c" stroke-width="1.4" stroke-dasharray="3.5,1.2,1,1.3"/>
<line x1="307.21" y1="212.30" x2="307.21" y2="216.90" stroke="#2e1a4c" stroke-width="1" />
<line x1="339.17" y1="212.30" x2="339.17" y2="216.90" stroke="#2e1a4c" stroke-width="1" />
<line x1="406.24" y1="222.57" x2="406.24" y2="227.17" stroke="#2e1a4c" stroke-width="1" />
<line x1="430.35" y1="222.57" x2="430.35" y2="227.17" stroke="#2e1a4c" stroke-width="1" />
<line x1="445.02" y1="222.57" x2="445.02" y2="227.17" stroke="#2e1a4c" stroke-width="1" />
<line x1="463.88" y1="222.57" x2="463.88" y2="227.17" stroke="#2e1a4c" stroke-width="1" />
<line x1="471.74" y1="242.44" x2="471.74" y2="247.04" stroke="#2e1a4c" stroke-width="1" />
<line x1="480.39" y1="242.44" x2="480.39" y2="247.04" stroke="#2e1a4c" stroke-width="1" />
<line x1="494.27" y1="242.44" x2="494.27" y2="247.04" stroke="#2e1a4c" stroke-width="1" />
<path d="M303.80,214.60 H305.90 V220.89 H410.17 V232.82 H494.80" fill="none" stroke="#dc952a" stroke-width="1.4"/>
<line x1="322.40" y1="218.59" x2="322.40" y2="223.19" stroke="#dc952a" stroke-width="1" />
<line x1="380.83" y1="218.59" x2="380.83" y2="223.19" stroke="#dc952a" stroke-width="1" />
<line x1="383.97" y1="218.59" x2="383.97" y2="223.19" stroke="#dc952a" stroke-width="1" />
<line x1="442.40" y1="230.52" x2="442.40" y2="235.12" stroke="#dc952a" stroke-width="1" />
<line x1="445.02" y1="230.52" x2="445.02" y2="235.12" stroke="#dc952a" stroke-width="1" />
<line x1="464.93" y1="230.52" x2="464.93" y2="235.12" stroke="#dc952a" stroke-width="1" />
<line x1="466.50" y1="230.52" x2="466.50" y2="235.12" stroke="#dc952a" stroke-width="1" />
<line x1="469.12" y1="230.52" x2="469.12" y2="235.12" stroke="#dc952a" stroke-width="1" />
<line x1="484.84" y1="230.52" x2="484.84" y2="235.12" stroke="#dc952a" stroke-width="1" />
<line x1="494.27" y1="230.52" x2="494.27" y2="235.12" stroke="#dc952a" stroke-width="1" />
<line x1="306.7" y1="272.7" x2="322.2" y2="272.7" stroke="#5a9acb" stroke-width="1.5" stroke-dasharray="3.2,1.4"/>
<text x="325.5" y="275.59999999999997" font-size="8.2" text-anchor="start" font-weight="normal" fill="#333" stroke="#333" stroke-width="0.22" textLength="29.4" lengthAdjust="spacingAndGlyphs" >del(17p)</text>
<line x1="306.7" y1="283.59999999999997" x2="322.2" y2="283.59999999999997" stroke="#a8176f" stroke-width="1.5" stroke-dasharray="2.5,2.1,2.5,2.1,5.5,2.1"/>
<text x="325.5" y="286.49999999999994" font-size="8.2" text-anchor="start" font-weight="normal" fill="#333" stroke="#333" stroke-width="0.22" textLength="29.4" lengthAdjust="spacingAndGlyphs" >del(11q)</text>
<line x1="306.7" y1="294.5" x2="322.2" y2="294.5" stroke="#4f8f3a" stroke-width="1.5"/>
<text x="325.5" y="297.4" font-size="8.2" text-anchor="start" font-weight="normal" fill="#333" stroke="#333" stroke-width="0.22" textLength="37.5" lengthAdjust="spacingAndGlyphs" >Trisomy 12</text>
<line x1="306.7" y1="305.4" x2="322.2" y2="305.4" stroke="#2e1a4c" stroke-width="1.5" stroke-dasharray="3.5,1.2,1,1.3"/>
<text x="325.5" y="308.29999999999995" font-size="8.2" text-anchor="start" font-weight="normal" fill="#333" stroke="#333" stroke-width="0.22" textLength="29.4" lengthAdjust="spacingAndGlyphs" >del(13q)</text>
<line x1="306.7" y1="316.3" x2="322.2" y2="316.3" stroke="#dc952a" stroke-width="1.5"/>
<text x="325.5" y="319.2" font-size="8.2" text-anchor="start" font-weight="normal" fill="#333" stroke="#333" stroke-width="0.22" textLength="55" lengthAdjust="spacingAndGlyphs" >No Abnormality</text>
<line x1="40.6" y1="378.2" x2="40.6" y2="504.4" stroke="#000" stroke-width="1.4" />
<line x1="40.0" y1="503.9" x2="250.1" y2="503.9" stroke="#000" stroke-width="1.5" />
<line x1="36.6" y1="503.9" x2="40.6" y2="503.9" stroke="#000" stroke-width="1.1" />
<text x="34.300000000000004" y="507.0" font-size="8.8" text-anchor="end" font-weight="normal" fill="#333" stroke="#333" stroke-width="0.22" textLength="4.6" lengthAdjust="spacingAndGlyphs" >0</text>
<line x1="36.6" y1="479.26" x2="40.6" y2="479.26" stroke="#000" stroke-width="1.1" />
<text x="34.300000000000004" y="482.36" font-size="8.8" text-anchor="end" font-weight="normal" fill="#333" stroke="#333" stroke-width="0.22" textLength="9.2" lengthAdjust="spacingAndGlyphs" >20</text>
<line x1="36.6" y1="454.62" x2="40.6" y2="454.62" stroke="#000" stroke-width="1.1" />
<text x="34.300000000000004" y="457.72" font-size="8.8" text-anchor="end" font-weight="normal" fill="#333" stroke="#333" stroke-width="0.22" textLength="9.2" lengthAdjust="spacingAndGlyphs" >40</text>
<line x1="36.6" y1="429.97999999999996" x2="40.6" y2="429.97999999999996" stroke="#000" stroke-width="1.1" />
<text x="34.300000000000004" y="433.08" font-size="8.8" text-anchor="end" font-weight="normal" fill="#333" stroke="#333" stroke-width="0.22" textLength="9.2" lengthAdjust="spacingAndGlyphs" >60</text>
<line x1="36.6" y1="405.34" x2="40.6" y2="405.34" stroke="#000" stroke-width="1.1" />
<text x="34.300000000000004" y="408.44" font-size="8.8" text-anchor="end" font-weight="normal" fill="#333" stroke="#333" stroke-width="0.22" textLength="9.2" lengthAdjust="spacingAndGlyphs" >80</text>
<line x1="36.6" y1="380.7" x2="40.6" y2="380.7" stroke="#000" stroke-width="1.1" />
<text x="34.300000000000004" y="383.8" font-size="8.8" text-anchor="end" font-weight="normal" fill="#333" stroke="#333" stroke-width="0.22" textLength="13.799999999999999" lengthAdjust="spacingAndGlyphs" >100</text>
<line x1="42.9" y1="503.9" x2="42.9" y2="507.4" stroke="#000" stroke-width="1.1" />
<text x="42.9" y="517.6999999999999" font-size="8.8" text-anchor="middle" font-weight="normal" fill="#333" stroke="#333" stroke-width="0.22" textLength="4.3" lengthAdjust="spacingAndGlyphs" >0</text>
<line x1="58.62" y1="503.9" x2="58.62" y2="507.4" stroke="#000" stroke-width="1.1" />
<text x="58.62" y="517.6999999999999" font-size="8.8" text-anchor="middle" font-weight="normal" fill="#333" stroke="#333" stroke-width="0.22" textLength="4.3" lengthAdjust="spacingAndGlyphs" >6</text>
<line x1="74.34" y1="503.9" x2="74.34" y2="507.4" stroke="#000" stroke-width="1.1" />
<text x="74.34" y="517.6999999999999" font-size="8.8" text-anchor="middle" font-weight="normal" fill="#333" stroke="#333" stroke-width="0.22" textLength="8.6" lengthAdjust="spacingAndGlyphs" >12</text>
<line x1="90.06" y1="503.9" x2="90.06" y2="507.4" stroke="#000" stroke-width="1.1" />
<text x="90.06" y="517.6999999999999" font-size="8.8" text-anchor="middle" font-weight="normal" fill="#333" stroke="#333" stroke-width="0.22" textLength="8.6" lengthAdjust="spacingAndGlyphs" >18</text>
<line x1="105.78" y1="503.9" x2="105.78" y2="507.4" stroke="#000" stroke-width="1.1" />
<text x="105.78" y="517.6999999999999" font-size="8.8" text-anchor="middle" font-weight="normal" fill="#333" stroke="#333" stroke-width="0.22" textLength="8.6" lengthAdjust="spacingAndGlyphs" >24</text>
<line x1="121.5" y1="503.9" x2="121.5" y2="507.4" stroke="#000" stroke-width="1.1" />
<text x="121.5" y="517.6999999999999" font-size="8.8" text-anchor="middle" font-weight="normal" fill="#333" stroke="#333" stroke-width="0.22" textLength="8.6" lengthAdjust="spacingAndGlyphs" >30</text>
<line x1="137.22" y1="503.9" x2="137.22" y2="507.4" stroke="#000" stroke-width="1.1" />
<text x="137.22" y="517.6999999999999" font-size="8.8" text-anchor="middle" font-weight="normal" fill="#333" stroke="#333" stroke-width="0.22" textLength="8.6" lengthAdjust="spacingAndGlyphs" >36</text>
<line x1="152.94" y1="503.9" x2="152.94" y2="507.4" stroke="#000" stroke-width="1.1" />
<text x="152.94" y="517.6999999999999" font-size="8.8" text-anchor="middle" font-weight="normal" fill="#333" stroke="#333" stroke-width="0.22" textLength="8.6" lengthAdjust="spacingAndGlyphs" >42</text>
<line x1="168.66" y1="503.9" x2="168.66" y2="507.4" stroke="#000" stroke-width="1.1" />
<text x="168.66" y="517.6999999999999" font-size="8.8" text-anchor="middle" font-weight="normal" fill="#333" stroke="#333" stroke-width="0.22" textLength="8.6" lengthAdjust="spacingAndGlyphs" >48</text>
<line x1="184.38000000000002" y1="503.9" x2="184.38000000000002" y2="507.4" stroke="#000" stroke-width="1.1" />
<text x="184.38000000000002" y="517.6999999999999" font-size="8.8" text-anchor="middle" font-weight="normal" fill="#333" stroke="#333" stroke-width="0.22" textLength="8.6" lengthAdjust="spacingAndGlyphs" >54</text>
<line x1="200.10000000000002" y1="503.9" x2="200.10000000000002" y2="507.4" stroke="#000" stroke-width="1.1" />
<text x="200.10000000000002" y="517.6999999999999" font-size="8.8" text-anchor="middle" font-weight="normal" fill="#333" stroke="#333" stroke-width="0.22" textLength="8.6" lengthAdjust="spacingAndGlyphs" >60</text>
<line x1="215.82000000000002" y1="503.9" x2="215.82000000000002" y2="507.4" stroke="#000" stroke-width="1.1" />
<text x="215.82000000000002" y="517.6999999999999" font-size="8.8" text-anchor="middle" font-weight="normal" fill="#333" stroke="#333" stroke-width="0.22" textLength="8.6" lengthAdjust="spacingAndGlyphs" >66</text>
<line x1="231.54000000000002" y1="503.9" x2="231.54000000000002" y2="507.4" stroke="#000" stroke-width="1.1" />
<text x="231.54000000000002" y="517.6999999999999" font-size="8.8" text-anchor="middle" font-weight="normal" fill="#333" stroke="#333" stroke-width="0.22" textLength="8.6" lengthAdjust="spacingAndGlyphs" >72</text>
<line x1="247.26000000000002" y1="503.9" x2="247.26000000000002" y2="507.4" stroke="#000" stroke-width="1.1" />
<text x="247.26000000000002" y="517.6999999999999" font-size="8.8" text-anchor="middle" font-weight="normal" fill="#333" stroke="#333" stroke-width="0.22" textLength="8.6" lengthAdjust="spacingAndGlyphs" >78</text>
<text x="145.8" y="529.6999999999999" font-size="10" text-anchor="middle" font-weight="normal" fill="#222" stroke="#222" stroke-width="0.22" textLength="148" lengthAdjust="spacingAndGlyphs" >Months from initiation of study treatment</text>
<text x="0" y="0" font-size="10" text-anchor="middle" fill="#222" textLength="100.5" lengthAdjust="spacingAndGlyphs" transform="translate(14.8,440.8) rotate(-90)">Progression-free survival, %</text>
<text x="7.0" y="369.59999999999997" font-size="12.3" text-anchor="start" font-weight="bold" fill="#000" textLength="9.4" lengthAdjust="spacingAndGlyphs" stroke="#000" stroke-width="0.35">D</text>
<path d="M42.90,380.70 H44.47 V383.16 H46.04 V384.40 H47.62 V386.24 H49.19 V387.85 H62.81 V391.05 H73.82 V395.98 H76.96 V398.32 H78.27 V399.80 H86.92 V402.38 H95.56 V408.30 H139.58 V414.58 H142.20 V419.51 H144.82 V422.59 H147.70 V425.05 H150.32 V427.76 H178.35 V430.35 H196.96 V435.40 H203.77 V440.45 H235.21" fill="none" stroke="#8e1a3c" stroke-width="1.5"/>
<line x1="113.38" y1="406.00" x2="113.38" y2="410.60" stroke="#8e1a3c" stroke-width="1" />
<line x1="181.24" y1="428.05" x2="181.24" y2="432.65" stroke="#8e1a3c" stroke-width="1" />
<line x1="184.38" y1="428.05" x2="184.38" y2="432.65" stroke="#8e1a3c" stroke-width="1" />
<line x1="187.52" y1="428.05" x2="187.52" y2="432.65" stroke="#8e1a3c" stroke-width="1" />
<line x1="189.62" y1="428.05" x2="189.62" y2="432.65" stroke="#8e1a3c" stroke-width="1" />
<line x1="205.60" y1="438.15" x2="205.60" y2="442.75" stroke="#8e1a3c" stroke-width="1" />
<line x1="208.75" y1="438.15" x2="208.75" y2="442.75" stroke="#8e1a3c" stroke-width="1" />
<line x1="212.94" y1="438.15" x2="212.94" y2="442.75" stroke="#8e1a3c" stroke-width="1" />
<line x1="219.23" y1="438.15" x2="219.23" y2="442.75" stroke="#8e1a3c" stroke-width="1" />
<line x1="228.92" y1="438.15" x2="228.92" y2="442.75" stroke="#8e1a3c" stroke-width="1" />
<line x1="231.02" y1="438.15" x2="231.02" y2="442.75" stroke="#8e1a3c" stroke-width="1" />
<line x1="234.16" y1="438.15" x2="234.16" y2="442.75" stroke="#8e1a3c" stroke-width="1" />
<path d="M42.90,380.70 H46.04 V383.16 H55.74 V386.86 H57.57 V391.05 H62.29 V394.50 H74.60 V402.01 H75.13 V409.04 H81.68 V412.73 H93.73 V416.43 H97.13 V421.36 H101.33 V426.28 H107.61 V428.75 H109.19 V434.91 H115.21 V439.22 H127.53 V445.26 H129.10 V450.55 H147.70 V454.62 H153.99 V459.06 H155.04 V462.01 H185.95 V471.62 H235.21" fill="none" stroke="#24406a" stroke-width="1.5" stroke-dasharray="3.3,2.2"/>
<line x1="53.90" y1="380.86" x2="53.90" y2="385.46" stroke="#24406a" stroke-width="1" />
<line x1="90.06" y1="410.43" x2="90.06" y2="415.03" stroke="#24406a" stroke-width="1" />
<line x1="145.34" y1="448.25" x2="145.34" y2="452.85" stroke="#24406a" stroke-width="1" />
<line x1="168.66" y1="459.71" x2="168.66" y2="464.31" stroke="#24406a" stroke-width="1" />
<line x1="171.80" y1="459.71" x2="171.80" y2="464.31" stroke="#24406a" stroke-width="1" />
<line x1="174.95" y1="459.71" x2="174.95" y2="464.31" stroke="#24406a" stroke-width="1" />
<line x1="178.09" y1="459.71" x2="178.09" y2="464.31" stroke="#24406a" stroke-width="1" />
<line x1="183.33" y1="459.71" x2="183.33" y2="464.31" stroke="#24406a" stroke-width="1" />
<line x1="185.43" y1="459.71" x2="185.43" y2="464.31" stroke="#24406a" stroke-width="1" />
<line x1="212.94" y1="469.32" x2="212.94" y2="473.92" stroke="#24406a" stroke-width="1" />
<line x1="223.42" y1="469.32" x2="223.42" y2="473.92" stroke="#24406a" stroke-width="1" />
<line x1="226.56" y1="469.32" x2="226.56" y2="473.92" stroke="#24406a" stroke-width="1" />
<line x1="229.97" y1="469.32" x2="229.97" y2="473.92" stroke="#24406a" stroke-width="1" />
<line x1="233.11" y1="469.32" x2="233.11" y2="473.92" stroke="#24406a" stroke-width="1" />
<line x1="47" y1="484.0" x2="62.5" y2="484.0" stroke="#8e1a3c" stroke-width="1.5"/>
<text x="65.8" y="486.9" font-size="8.2" text-anchor="start" font-weight="normal" fill="#333" stroke="#333" stroke-width="0.22" textLength="23" lengthAdjust="spacingAndGlyphs" >No CK</text>
<line x1="47" y1="494.2" x2="62.5" y2="494.2" stroke="#24406a" stroke-width="1.5" stroke-dasharray="3.3,2.2"/>
<text x="65.8" y="497.09999999999997" font-size="8.2" text-anchor="start" font-weight="normal" fill="#333" stroke="#333" stroke-width="0.22" textLength="10.5" lengthAdjust="spacingAndGlyphs" >CK</text>
<line x1="301.3" y1="378.2" x2="301.3" y2="504.4" stroke="#000" stroke-width="1.4" />
<line x1="300.7" y1="503.9" x2="510.8" y2="503.9" stroke="#000" stroke-width="1.5" />
<line x1="297.3" y1="503.9" x2="301.3" y2="503.9" stroke="#000" stroke-width="1.1" />
<text x="295.0" y="507.0" font-size="8.8" text-anchor="end" font-weight="normal" fill="#333" stroke="#333" stroke-width="0.22" textLength="4.6" lengthAdjust="spacingAndGlyphs" >0</text>
<line x1="297.3" y1="479.26" x2="301.3" y2="479.26" stroke="#000" stroke-width="1.1" />
<text x="295.0" y="482.36" font-size="8.8" text-anchor="end" font-weight="normal" fill="#333" stroke="#333" stroke-width="0.22" textLength="9.2" lengthAdjust="spacingAndGlyphs" >20</text>
<line x1="297.3" y1="454.62" x2="301.3" y2="454.62" stroke="#000" stroke-width="1.1" />
<text x="295.0" y="457.72" font-size="8.8" text-anchor="end" font-weight="normal" fill="#333" stroke="#333" stroke-width="0.22" textLength="9.2" lengthAdjust="spacingAndGlyphs" >40</text>
<line x1="297.3" y1="429.97999999999996" x2="301.3" y2="429.97999999999996" stroke="#000" stroke-width="1.1" />
<text x="295.0" y="433.08" font-size="8.8" text-anchor="end" font-weight="normal" fill="#333" stroke="#333" stroke-width="0.22" textLength="9.2" lengthAdjust="spacingAndGlyphs" >60</text>
<line x1="297.3" y1="405.34" x2="301.3" y2="405.34" stroke="#000" stroke-width="1.1" />
<text x="295.0" y="408.44" font-size="8.8" text-anchor="end" font-weight="normal" fill="#333" stroke="#333" stroke-width="0.22" textLength="9.2" lengthAdjust="spacingAndGlyphs" >80</text>
<line x1="297.3" y1="380.7" x2="301.3" y2="380.7" stroke="#000" stroke-width="1.1" />
<text x="295.0" y="383.8" font-size="8.8" text-anchor="end" font-weight="normal" fill="#333" stroke="#333" stroke-width="0.22" textLength="13.799999999999999" lengthAdjust="spacingAndGlyphs" >100</text>
<line x1="303.6" y1="503.9" x2="303.6" y2="507.4" stroke="#000" stroke-width="1.1" />
<text x="303.6" y="517.6999999999999" font-size="8.8" text-anchor="middle" font-weight="normal" fill="#333" stroke="#333" stroke-width="0.22" textLength="4.3" lengthAdjust="spacingAndGlyphs" >0</text>
<line x1="319.32000000000005" y1="503.9" x2="319.32000000000005" y2="507.4" stroke="#000" stroke-width="1.1" />
<text x="319.32000000000005" y="517.6999999999999" font-size="8.8" text-anchor="middle" font-weight="normal" fill="#333" stroke="#333" stroke-width="0.22" textLength="4.3" lengthAdjust="spacingAndGlyphs" >6</text>
<line x1="335.04" y1="503.9" x2="335.04" y2="507.4" stroke="#000" stroke-width="1.1" />
<text x="335.04" y="517.6999999999999" font-size="8.8" text-anchor="middle" font-weight="normal" fill="#333" stroke="#333" stroke-width="0.22" textLength="8.6" lengthAdjust="spacingAndGlyphs" >12</text>
<line x1="350.76000000000005" y1="503.9" x2="350.76000000000005" y2="507.4" stroke="#000" stroke-width="1.1" />
<text x="350.76000000000005" y="517.6999999999999" font-size="8.8" text-anchor="middle" font-weight="normal" fill="#333" stroke="#333" stroke-width="0.22" textLength="8.6" lengthAdjust="spacingAndGlyphs" >18</text>
<line x1="366.48" y1="503.9" x2="366.48" y2="507.4" stroke="#000" stroke-width="1.1" />
<text x="366.48" y="517.6999999999999" font-size="8.8" text-anchor="middle" font-weight="normal" fill="#333" stroke="#333" stroke-width="0.22" textLength="8.6" lengthAdjust="spacingAndGlyphs" >24</text>
<line x1="382.20000000000005" y1="503.9" x2="382.20000000000005" y2="507.4" stroke="#000" stroke-width="1.1" />
<text x="382.20000000000005" y="517.6999999999999" font-size="8.8" text-anchor="middle" font-weight="normal" fill="#333" stroke="#333" stroke-width="0.22" textLength="8.6" lengthAdjust="spacingAndGlyphs" >30</text>
<line x1="397.92" y1="503.9" x2="397.92" y2="507.4" stroke="#000" stroke-width="1.1" />
<text x="397.92" y="517.6999999999999" font-size="8.8" text-anchor="middle" font-weight="normal" fill="#333" stroke="#333" stroke-width="0.22" textLength="8.6" lengthAdjust="spacingAndGlyphs" >36</text>
<line x1="413.64000000000004" y1="503.9" x2="413.64000000000004" y2="507.4" stroke="#000" stroke-width="1.1" />
<text x="413.64000000000004" y="517.6999999999999" font-size="8.8" text-anchor="middle" font-weight="normal" fill="#333" stroke="#333" stroke-width="0.22" textLength="8.6" lengthAdjust="spacingAndGlyphs" >42</text>
<line x1="429.36" y1="503.9" x2="429.36" y2="507.4" stroke="#000" stroke-width="1.1" />
<text x="429.36" y="517.6999999999999" font-size="8.8" text-anchor="middle" font-weight="normal" fill="#333" stroke="#333" stroke-width="0.22" textLength="8.6" lengthAdjust="spacingAndGlyphs" >48</text>
<line x1="445.08000000000004" y1="503.9" x2="445.08000000000004" y2="507.4" stroke="#000" stroke-width="1.1" />
<text x="445.08000000000004" y="517.6999999999999" font-size="8.8" text-anchor="middle" font-weight="normal" fill="#333" stroke="#333" stroke-width="0.22" textLength="8.6" lengthAdjust="spacingAndGlyphs" >54</text>
<line x1="460.80000000000007" y1="503.9" x2="460.80000000000007" y2="507.4" stroke="#000" stroke-width="1.1" />
<text x="460.80000000000007" y="517.6999999999999" font-size="8.8" text-anchor="middle" font-weight="normal" fill="#333" stroke="#333" stroke-width="0.22" textLength="8.6" lengthAdjust="spacingAndGlyphs" >60</text>
<line x1="476.52000000000004" y1="503.9" x2="476.52000000000004" y2="507.4" stroke="#000" stroke-width="1.1" />
<text x="476.52000000000004" y="517.6999999999999" font-size="8.8" text-anchor="middle" font-weight="normal" fill="#333" stroke="#333" stroke-width="0.22" textLength="8.6" lengthAdjust="spacingAndGlyphs" >66</text>
<line x1="492.24" y1="503.9" x2="492.24" y2="507.4" stroke="#000" stroke-width="1.1" />
<text x="492.24" y="517.6999999999999" font-size="8.8" text-anchor="middle" font-weight="normal" fill="#333" stroke="#333" stroke-width="0.22" textLength="8.6" lengthAdjust="spacingAndGlyphs" >72</text>
<line x1="507.96000000000004" y1="503.9" x2="507.96000000000004" y2="507.4" stroke="#000" stroke-width="1.1" />
<text x="507.96000000000004" y="517.6999999999999" font-size="8.8" text-anchor="middle" font-weight="normal" fill="#333" stroke="#333" stroke-width="0.22" textLength="8.6" lengthAdjust="spacingAndGlyphs" >78</text>
<text x="406.5" y="529.6999999999999" font-size="10" text-anchor="middle" font-weight="normal" fill="#222" stroke="#222" stroke-width="0.22" textLength="148" lengthAdjust="spacingAndGlyphs" >Months from initiation of study treatment</text>
<text x="0" y="0" font-size="10" text-anchor="middle" fill="#222" textLength="64.5" lengthAdjust="spacingAndGlyphs" transform="translate(275.5,441.5) rotate(-90)">Overall survival, %</text>
<text x="268.7" y="369.59999999999997" font-size="12.3" text-anchor="start" font-weight="bold" fill="#000" textLength="7.4" lengthAdjust="spacingAndGlyphs" stroke="#000" stroke-width="0.35">E</text>
<path d="M303.60,380.70 H306.48 V383.16 H309.10 V386.37 H310.94 V388.22 H322.20 V390.43 H336.87 V392.53 H337.66 V393.76 H356.00 V396.84 H357.57 V399.43 H409.19 V403.37 H411.81 V410.27 H495.38" fill="none" stroke="#8e1a3c" stroke-width="1.5"/>
<line x1="380.89" y1="397.13" x2="380.89" y2="401.73" stroke="#8e1a3c" stroke-width="1" />
<line x1="385.34" y1="397.13" x2="385.34" y2="401.73" stroke="#8e1a3c" stroke-width="1" />
<line x1="405.78" y1="397.13" x2="405.78" y2="401.73" stroke="#8e1a3c" stroke-width="1" />
<line x1="417.05" y1="407.97" x2="417.05" y2="412.57" stroke="#8e1a3c" stroke-width="1" />
<line x1="431.72" y1="407.97" x2="431.72" y2="412.57" stroke="#8e1a3c" stroke-width="1" />
<line x1="445.60" y1="407.97" x2="445.60" y2="412.57" stroke="#8e1a3c" stroke-width="1" />
<line x1="449.80" y1="407.97" x2="449.80" y2="412.57" stroke="#8e1a3c" stroke-width="1" />
<line x1="456.08" y1="407.97" x2="456.08" y2="412.57" stroke="#8e1a3c" stroke-width="1" />
<line x1="465.78" y1="407.97" x2="465.78" y2="412.57" stroke="#8e1a3c" stroke-width="1" />
<line x1="467.87" y1="407.97" x2="467.87" y2="412.57" stroke="#8e1a3c" stroke-width="1" />
<line x1="471.02" y1="407.97" x2="471.02" y2="412.57" stroke="#8e1a3c" stroke-width="1" />
<line x1="472.07" y1="407.97" x2="472.07" y2="412.57" stroke="#8e1a3c" stroke-width="1" />
<line x1="481.50" y1="407.97" x2="481.50" y2="412.57" stroke="#8e1a3c" stroke-width="1" />
<line x1="490.14" y1="407.97" x2="490.14" y2="412.57" stroke="#8e1a3c" stroke-width="1" />
<line x1="492.24" y1="407.97" x2="492.24" y2="412.57" stroke="#8e1a3c" stroke-width="1" />
<line x1="494.34" y1="407.97" x2="494.34" y2="412.57" stroke="#8e1a3c" stroke-width="1" />
<path d="M303.60,380.70 H317.75 V383.16 H322.20 V386.37 H335.30 V388.95 H337.66 V395.98 H342.90 V401.15 H346.31 V405.34 H353.38 V409.04 H356.79 V412.36 H365.43 V415.81 H368.84 V420.74 H381.41 V424.07 H387.44 V426.65 H390.06 V430.23 H409.19 V433.68 H412.59 V437.13 H415.21 V438.85 H446.65 V446.49 H449.80 V449.08 H451.89 V457.45 H495.38" fill="none" stroke="#24406a" stroke-width="1.5" stroke-dasharray="3.3,2.2"/>
<line x1="315.13" y1="378.40" x2="315.13" y2="383.00" stroke="#24406a" stroke-width="1" />
<line x1="345.52" y1="398.85" x2="345.52" y2="403.45" stroke="#24406a" stroke-width="1" />
<line x1="375.91" y1="418.44" x2="375.91" y2="423.04" stroke="#24406a" stroke-width="1" />
<line x1="379.32" y1="418.44" x2="379.32" y2="423.04" stroke="#24406a" stroke-width="1" />
<line x1="430.93" y1="436.55" x2="430.93" y2="441.15" stroke="#24406a" stroke-width="1" />
<line x1="434.08" y1="436.55" x2="434.08" y2="441.15" stroke="#24406a" stroke-width="1" />
<line x1="437.22" y1="436.55" x2="437.22" y2="441.15" stroke="#24406a" stroke-width="1" />
<line x1="444.56" y1="436.55" x2="444.56" y2="441.15" stroke="#24406a" stroke-width="1" />
<line x1="447.70" y1="444.19" x2="447.70" y2="448.79" stroke="#24406a" stroke-width="1" />
<line x1="474.16" y1="455.15" x2="474.16" y2="459.75" stroke="#24406a" stroke-width="1" />
<line x1="483.86" y1="455.15" x2="483.86" y2="459.75" stroke="#24406a" stroke-width="1" />
<line x1="488.05" y1="455.15" x2="488.05" y2="459.75" stroke="#24406a" stroke-width="1" />
<line x1="492.24" y1="455.15" x2="492.24" y2="459.75" stroke="#24406a" stroke-width="1" />
<line x1="307.7" y1="484.0" x2="323.2" y2="484.0" stroke="#8e1a3c" stroke-width="1.5"/>
<text x="326.5" y="486.9" font-size="8.2" text-anchor="start" font-weight="normal" fill="#333" stroke="#333" stroke-width="0.22" textLength="23" lengthAdjust="spacingAndGlyphs" >No CK</text>
<line x1="307.7" y1="494.2" x2="323.2" y2="494.2" stroke="#24406a" stroke-width="1.5" stroke-dasharray="3.3,2.2"/>
<text x="326.5" y="497.09999999999997" font-size="8.2" text-anchor="start" font-weight="normal" fill="#333" stroke="#333" stroke-width="0.22" textLength="10.5" lengthAdjust="spacingAndGlyphs" >CK</text>
<rect x="0" y="0" width="520" height="539" fill="none" stroke="#000" stroke-width="3"/>
</svg>
</body></html>
